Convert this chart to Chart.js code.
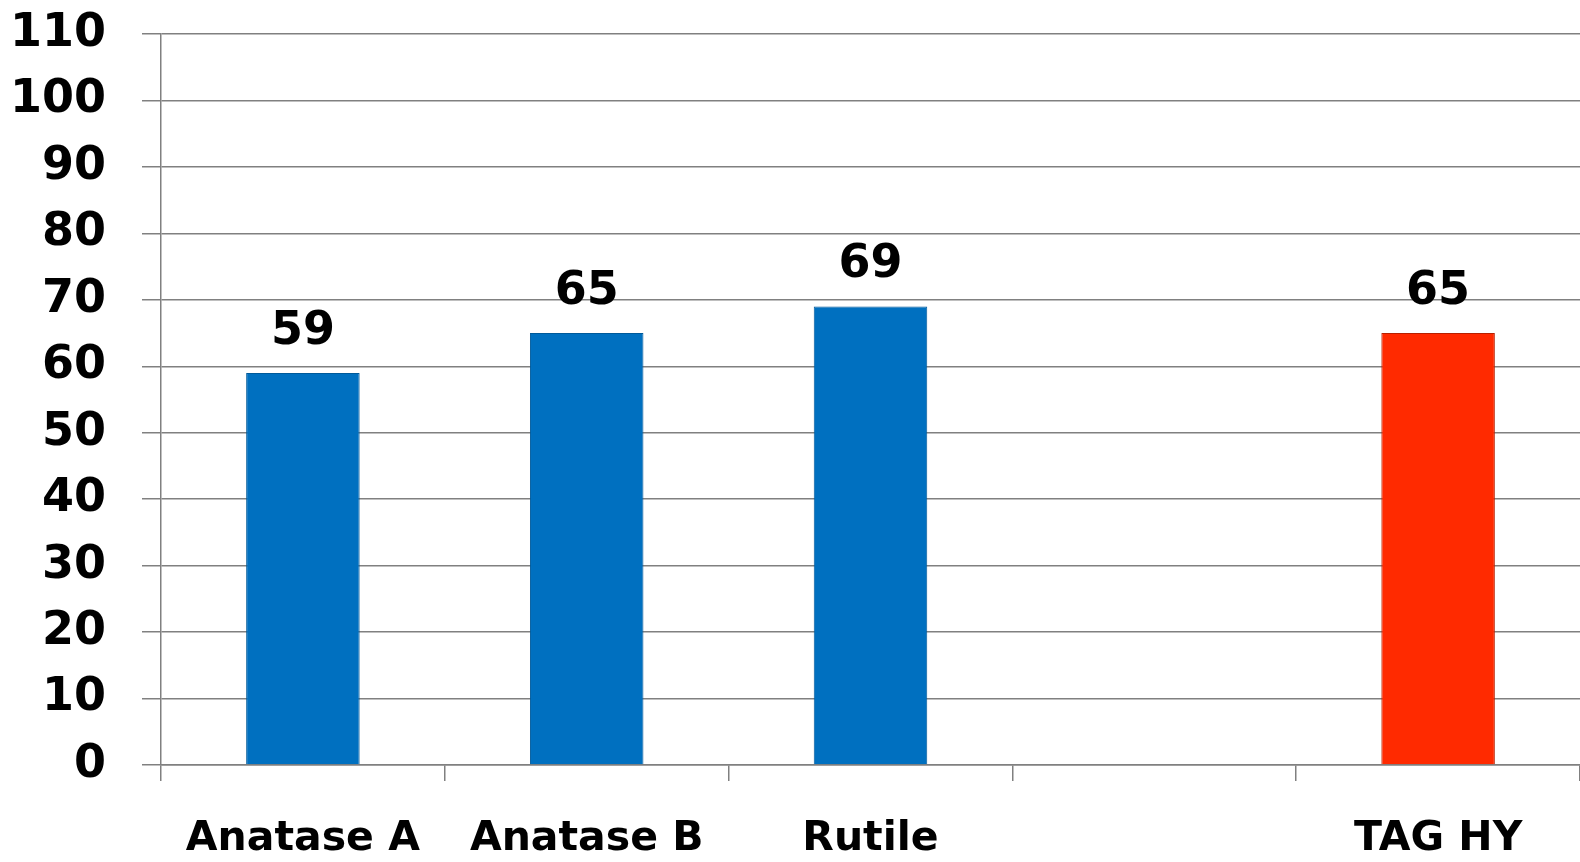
<!DOCTYPE html>
<html lang="en">
<head>
    <meta charset="UTF-8">
    <title>Bar chart</title>
    <script src="https://cdn.jsdelivr.net/npm/chart.js"></script>
    <style>
        html, body { margin: 0; padding: 0; background: #fff; overflow: hidden; }
        #wrap { width: 1580px; height: 862px; }
        canvas { display: block; }
    </style>
</head>
<body>
    <div id="wrap"><canvas id="chart"></canvas></div>
<script>
    const categories = ["Anatase A", "Anatase B", "Rutile", "", "TAG HY"];
    const values = [59, 65, 69, null, 65];
    const barColors = ["#0070C0", "#0070C0", "#0070C0", "#0070C0", "#FF2A00"];
    const borderColors = ["#005A9A", "#005A9A", "#005A9A", "#005A9A", "#B82000"];
    const yTicks = [0, 10, 20, 30, 40, 50, 60, 70, 80, 90, 100, 110];

    const font = "DejaVu Sans";

    // draws the value above each bar
    const valueLabels = {
        id: "valueLabels",
        afterDatasetsDraw(chart) {
            const ctx = chart.ctx;
            const meta = chart.getDatasetMeta(0);
            ctx.save();
            ctx.fillStyle = "#000";
            ctx.font = "bold 46px '" + font + "'";
            ctx.textAlign = "center";
            ctx.textBaseline = "alphabetic";
            meta.data.forEach((bar, i) => {
                if (values[i] == null) return;
                ctx.fillText(String(values[i]), bar.x, bar.y - 29);
            });
            ctx.restore();
        }
    };

    new Chart(document.getElementById("chart"), {
        type: "bar",
        data: {
            labels: categories,
            datasets: [{
                data: values,
                backgroundColor: barColors,
                borderColor: borderColors,
                borderWidth: 1,
                barPercentage: 0.4,
                categoryPercentage: 1
            }]
        },
        options: {
            responsive: true,
            maintainAspectRatio: false,
            animation: false,
            layout: { padding: { top: 34, right: 0, left: 0, bottom: 0 } },
            plugins: {
                legend: { display: false },
                tooltip: { enabled: false }
            },
            scales: {
                x: {
                    afterFit: s => { s.height = 97; s.paddingLeft = 0; s.paddingRight = 0; },
                    grid: {
                        offset: true,
                        drawOnChartArea: false,
                        drawTicks: true,
                        tickLength: 16,
                        color: "#808080",
                        lineWidth: 1.5
                    },
                    border: { display: true, color: "#808080", width: 1.5 },
                    ticks: {
                        color: "#000",
                        padding: 34,
                        font: { family: font, size: 41, weight: "bold" },
                        maxRotation: 0,
                        autoSkip: false
                    }
                },
                y: {
                    min: 0,
                    max: 110,
                    afterFit: s => { s.width = 161; s.paddingTop = 0; s.paddingBottom = 0; },
                    afterBuildTicks: s => { s.ticks = yTicks.map(v => ({ value: v })); },
                    grid: {
                        color: "#808080",
                        lineWidth: 1.5,
                        drawTicks: true,
                        tickLength: 19
                    },
                    border: { display: true, color: "#808080", width: 1.5 },
                    ticks: {
                        color: "#000",
                        padding: 36,
                        font: { family: font, size: 46, weight: "bold" }
                    }
                }
            }
        },
        plugins: [valueLabels]
    });
</script>
</body>
</html>
